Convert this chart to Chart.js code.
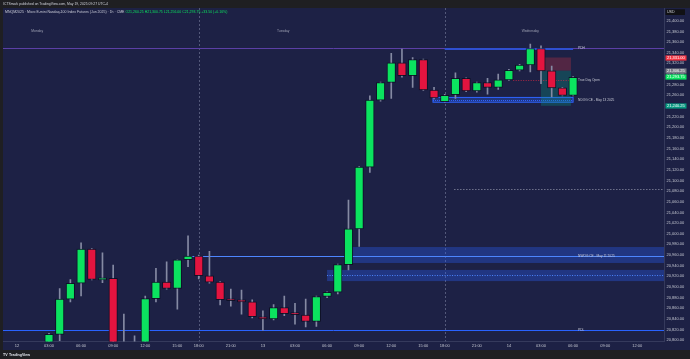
<!DOCTYPE html>
<html lang="en">
<head>
<meta charset="UTF-8">
<title>MNQM2025 1h</title>
<script src="https://cdn.jsdelivr.net/npm/chart.js"></script>
<style>
  html, body { margin: 0; padding: 0; background: #1d2145; overflow: hidden; }
</style>
</head>
<body>
<canvas id="chart" width="690" height="359"></canvas>
<script>
// hourly bars, index 0 = 12th 00:00 (17:00 halt bar skipped)
const hours  = [3,4,5,6,7,8,9,10,11,12,13,14,15,16,17,18,19,20,21,22,23,24,25,26,27,28,29,30,31,32,33,34,35,36,37,38,39,40,41,42,43,44,45,46,47,48,49,50,51,52];
const opens  = [20790,20811,20877,20907,20971,20913,20916,20785,20790,20782,20878,20909,20897,20951,20958,20921,20909,20876,20874,20872,20844,20840,20861,20850,20847,20835,20882,20890,20942,21009,21125,21251,21284,21321,21297,21327,21270,21248,21261,21292,21268,21284,21275,21289,21307,21317,21348,21306,21274,21260];
const highs  = [20813,20897,20914,20983,20972,20964,20941,20849,20808,20883,20935,20947,20951,20996,20960,20967,20910,20896,20894,20876,20855,20867,20883,20869,20877,20883,20891,20943,21063,21126,21259,21285,21339,21347,21331,21328,21275,21262,21302,21293,21285,21292,21300,21309,21318,21356,21353,21315,21275,21295];
const lows   = [20782,20799,20872,20883,20913,20908,20770,20760,20765,20775,20872,20896,20858,20938,20915,20907,20866,20864,20849,20842,20819,20838,20846,20830,20825,20826,20880,20887,20932,20976,21115,21249,21254,21294,21275,21269,21253,21247,21254,21267,21266,21262,21271,21288,21306,21304,21282,21257,21259,21259];
const closes = [20811,20877,20907,20971,20914,20917,20785,20790,20780,20878,20909,20897,20951,20958,20921,20909,20876,20874,20872,20844,20840,20861,20850,20848,20835,20882,20890,20942,21009,21125,21251,21284,21321,21297,21327,21270,21255,21260,21292,21268,21284,21275,21289,21307,21317,21348,21306,21274,21260,21293.75];

const timeTickPos    = [0,3,6,9,12,15,17,20,23,26,29,32,35,38,40,43,46,49,52,55,58];
const timeTickLabels = ['12','03:00','06:00','09:00','12:00','15:00','18:00','21:00','13','03:00','06:00','09:00','12:00','15:00','18:00','21:00','14','03:00','06:00','09:00','12:00'];

const sessionBreaks = [17, 40];
const dayNames = ['Monday', 'Tuesday', 'Wednesday'];
const dayNamePos = [1.9, 24.9, 48];

const pdh = 21349, pdl = 20819;
const nwogBand = [20945, 20975], nwogCE = 20958;
const lowBand = [20911, 20932], lowCE = 20921.5;
const ndogBox = [21247, 21256];
const trueDayOpen = 21288.6;
const posStop = 21331, posEntry = 21306.25, posTarget = 21240.25;
const dottedLevel = 21083.5;

const NAVY = '#1d2145', DARK = '#1f1f22';
const GREEN = '#0be35f', RED = '#e3143f', WICK = '#858aa3';
const FONT = "'Liberation Sans', Arial, sans-serif";

function fmt(v) {
    return v.toLocaleString('en-US', { minimumFractionDigits: 2, maximumFractionDigits: 2 });
}

const bodies = hours.map((h, i) => ({ x: h, y: [Math.min(opens[i], closes[i]), Math.max(opens[i], closes[i])] }));
const wicks = hours.map((h, i) => ({ x: h, y: [lows[i], highs[i]] }));
const bodyColors = hours.map((h, i) => closes[i] >= opens[i] ? GREEN : RED);

function hline(ctx, x1, x2, y) {
    ctx.beginPath(); ctx.moveTo(x1, y); ctx.lineTo(x2, y); ctx.stroke();
}

const overlay = {
    id: 'overlay',
    beforeDraw(chart) {
        const ctx = chart.ctx;
        ctx.save();
        ctx.fillStyle = NAVY; ctx.fillRect(0, 0, 690, 359);
        ctx.fillStyle = DARK;
        ctx.fillRect(0, 0, 690, 8);
        ctx.fillRect(0, 350, 690, 9);
        ctx.fillRect(0, 8, 3, 342);
        ctx.restore();
    },
    beforeDatasetsDraw(chart) {
        const { ctx, chartArea: a } = chart;
        const X = v => chart.scales.x.getPixelForValue(v);
        const Y = v => chart.scales.y.getPixelForValue(v);
        ctx.save();
        ctx.beginPath(); ctx.rect(a.left, a.top, a.right - a.left, a.bottom - a.top); ctx.clip();

        // session separators
        ctx.strokeStyle = 'rgba(140,146,175,0.5)'; ctx.lineWidth = 1; ctx.setLineDash([2, 2]);
        for (const s of sessionBreaks) {
            const px = Math.round(X(s)) + 0.5;
            ctx.beginPath(); ctx.moveTo(px, a.top); ctx.lineTo(px, a.bottom); ctx.stroke();
        }
        ctx.setLineDash([]);

        // gap bands
        ctx.fillStyle = 'rgba(41,98,255,0.33)';
        ctx.fillRect(X(31.1), Y(nwogBand[1]), a.right - X(31.1), Y(nwogBand[0]) - Y(nwogBand[1]));
        ctx.fillRect(X(29), Y(lowBand[1]), a.right - X(29), Y(lowBand[0]) - Y(lowBand[1]));
        ctx.strokeStyle = '#4d86ff'; ctx.lineWidth = 1;
        hline(ctx, X(16.3), a.right, Math.round(Y(nwogCE)) + 0.5);
        ctx.setLineDash([1, 1.5]);
        hline(ctx, X(29), a.right, Math.round(Y(lowCE)) + 0.5);
        ctx.setLineDash([]);

        // NDOG box
        ctx.fillStyle = 'rgba(41,98,255,0.3)';
        ctx.fillRect(X(38.9), Y(ndogBox[1]), X(52) - X(38.9), Y(ndogBox[0]) - Y(ndogBox[1]));
        ctx.strokeStyle = '#2f64ff';
        ctx.strokeRect(X(38.9), Y(ndogBox[1]), X(52) - X(38.9), Y(ndogBox[0]) - Y(ndogBox[1]));
        ctx.setLineDash([1, 1]);
        hline(ctx, X(38.9), X(52), Math.round(Y((ndogBox[0] + ndogBox[1]) / 2)) + 0.5);
        ctx.setLineDash([]);

        // position tool
        ctx.fillStyle = 'rgba(242,54,69,0.25)';
        ctx.fillRect(X(49), Y(posStop), X(51.8) - X(49), Y(posEntry) - Y(posStop));
        ctx.fillStyle = 'rgba(8,153,129,0.3)';
        ctx.fillRect(X(49), Y(posEntry), X(51.8) - X(49), Y(posTarget) - Y(posEntry));

        // highs / lows
        ctx.strokeStyle = '#5b3fa6'; ctx.lineWidth = 1;
        hline(ctx, a.left, a.right, Math.round(Y(pdh)) + 0.5);
        ctx.strokeStyle = '#2f4fd0'; ctx.lineWidth = 2;
        hline(ctx, X(40), X(52), Math.round(Y(pdh)) + 1);
        ctx.strokeStyle = '#2962ff'; ctx.lineWidth = 1;
        hline(ctx, a.left, a.right, Math.round(Y(pdl)) + 0.5);

        // true day open + dotted level
        ctx.strokeStyle = 'rgba(230,40,70,0.7)'; ctx.setLineDash([1, 1.5]);
        hline(ctx, X(46.4), X(52), Math.round(Y(trueDayOpen)) + 0.5);
        ctx.strokeStyle = '#9a9db0'; ctx.setLineDash([1, 2]);
        hline(ctx, X(40.9), a.right, Math.round(Y(dottedLevel)) + 0.5);
        ctx.setLineDash([]);
        ctx.restore();
    },
    afterDraw(chart) {
        const { ctx } = chart;
        const X = v => chart.scales.x.getPixelForValue(v);
        const Y = v => chart.scales.y.getPixelForValue(v);
        ctx.save();
        ctx.textBaseline = 'middle';

        // drawing labels
        ctx.font = '3.2px ' + FONT; ctx.fillStyle = '#c8cad6';
        const lx = X(52) + 5;
        ctx.fillText('PDH', lx, Y(pdh));
        ctx.fillText('True Day Open', lx, Y(trueDayOpen));
        ctx.fillText('NDOG CE - May 13 2025', lx, Y((ndogBox[0] + ndogBox[1]) / 2));
        ctx.fillText('NWOG CE - May 11 2025', lx, Y(nwogCE));
        ctx.fillText('PDL', lx, Y(pdl));

        // day names
        ctx.textAlign = 'center'; ctx.fillStyle = '#9ea1b3'; ctx.font = '3.3px ' + FONT;
        dayNames.forEach((d, i) => ctx.fillText(d, X(dayNamePos[i]), 31.5));

        // header
        ctx.textAlign = 'left';
        ctx.fillStyle = '#d1d4dc'; ctx.font = '3.4px ' + FONT;
        ctx.fillText('ICTSmark published on TradingView.com, May 19, 2025 09:27 UTC-4', 3, 4.3);
        ctx.font = '3.5px ' + FONT;
        const sym = 'MNQM2025 · Micro E-mini Nasdaq-100 Index Futures (Jun 2025) · 1h · CME ';
        ctx.fillStyle = '#c8cad6';
        ctx.fillText(sym, 5, 11.7);
        ctx.fillStyle = GREEN;
        ctx.fillText('O21,260.25 H21,300.75 L21,256.00 C21,293.75 +33.50 (+0.16%)', 5 + ctx.measureText(sym).width, 11.7);

        // footer logo
        ctx.fillStyle = '#e0e3eb'; ctx.font = 'bold 3.6px ' + FONT;
        ctx.fillText('TV', 3, 354.5);
        ctx.fillText('TradingView', 9, 354.5);

        // price axis badges
        const badge = (price, bg, fg) => {
            const py = Math.round(Y(price));
            ctx.fillStyle = bg; ctx.fillRect(665.5, py - 2.6, 21, 5.2);
            ctx.fillStyle = fg; ctx.font = '4px ' + FONT;
            ctx.fillText(fmt(price), 667, py + 0.2);
        };
        ctx.fillStyle = '#111114'; ctx.fillRect(665.5, 9.3, 19.5, 5.7);
        ctx.fillStyle = '#d1d4dc'; ctx.font = '3.6px ' + FONT; ctx.fillText('USD', 667, 12.2);
        badge(posStop, '#f23645', '#ffffff');
        badge(posEntry, '#787b86', '#ffffff');
        badge(closes[closes.length - 1], GREEN, '#ffffff');
        badge(posTarget, '#089981', '#ffffff');
        ctx.restore();
    }
};

new Chart(document.getElementById('chart'), {
    type: 'bar',
    data: {
        datasets: [
            { data: bodies, backgroundColor: bodyColors, borderColor: 'rgba(12,14,34,0.85)', borderWidth: 1,
              borderSkipped: false, barThickness: 8.5, minBarLength: 2, grouped: false, order: 0 },
            { data: wicks, backgroundColor: WICK, barThickness: 1, grouped: false, order: 1 }
        ]
    },
    options: {
        responsive: false,
        animation: false,
        layout: { padding: { left: 3, top: 8, right: 0, bottom: 9 } },
        plugins: { legend: { display: false }, tooltip: { enabled: false } },
        scales: {
            x: {
                type: 'linear', min: -1.3, max: 60.5, offset: false,
                grid: { display: false, drawTicks: false },
                border: { display: true, color: '#353a5c' },
                afterBuildTicks: s => { s.ticks = timeTickPos.map(v => ({ value: v })); },
                afterFit: s => { s.height = 8.5; },
                ticks: {
                    autoSkip: false, maxRotation: 0, padding: 2, color: '#c3c6d0',
                    font: { size: 4, family: FONT },
                    callback: v => timeTickLabels[timeTickPos.indexOf(v)]
                }
            },
            y: {
                type: 'linear', position: 'right', min: 20797.5, max: 21424,
                grid: { display: false, drawTicks: false },
                border: { display: true, color: '#353a5c' },
                afterFit: s => { s.width = 26; },
                afterBuildTicks: s => { s.ticks = s.ticks.filter(t => t.value <= 21400); },
                ticks: {
                    stepSize: 20, includeBounds: false, padding: 2.5, color: '#c3c6d0',
                    font: { size: 4, family: FONT },
                    callback: v => fmt(v)
                }
            }
        }
    },
    plugins: [overlay]
});
</script>
</body>
</html>
